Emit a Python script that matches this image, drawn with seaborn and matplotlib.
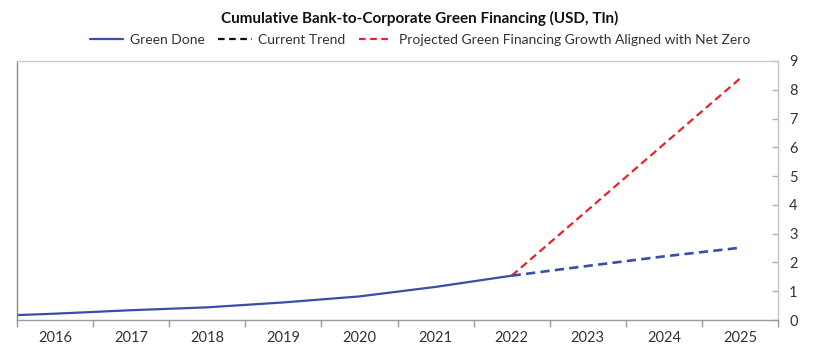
import numpy as np
import pandas as pd
import seaborn as sns
from matplotlib import pyplot as plt
from matplotlib.lines import Line2D
from matplotlib.ticker import FixedLocator, NullFormatter

sns.set_style("white")
plt.rcParams['font.family'] = ['Lato', 'DejaVu Sans']

# data
years_done = [2015, 2016, 2017, 2018, 2019, 2020, 2021, 2022]
green_done = [0.12, 0.22, 0.34, 0.44, 0.61, 0.82, 1.15, 1.54]
years_proj = [2022, 2023, 2024, 2025]
current_trend = [1.54, 1.88, 2.21, 2.51]
net_zero = [1.54, 3.82, 6.11, 8.39]
year_labels = [str(y) for y in range(2016, 2026)]

BLUE = "#3a4ea6"
RED = "#e8232c"

df_done = pd.DataFrame({"year": years_done, "value": green_done})
df_trend = pd.DataFrame({"year": years_proj, "value": current_trend})
df_nz = pd.DataFrame({"year": years_proj, "value": net_zero})

fig = plt.figure(figsize=(8.4, 3.57), dpi=100)
ax = fig.add_axes([17/840, 37/357, (778-17)/840, (320-61)/357])

sns.lineplot(data=df_done, x="year", y="value", ax=ax, color=BLUE, lw=1.6)
sns.lineplot(data=df_nz, x="year", y="value", ax=ax, color=RED, lw=1.6,
             linestyle=(0, (3.5, 2)))
sns.lineplot(data=df_trend, x="year", y="value", ax=ax, color=BLUE, lw=1.9,
             linestyle=(0, (3.5, 2)))

ax.set_xlim(2015.5, 2025.5)
ax.set_ylim(0, 9)
ax.set_xlabel("")
ax.set_ylabel("")

# category style x axis: ticks at boundaries, labels at centres
ax.xaxis.set_major_locator(FixedLocator(np.arange(2015.5, 2026, 1.0)))
ax.xaxis.set_major_formatter(NullFormatter())
ax.xaxis.set_minor_locator(FixedLocator(np.arange(2016, 2026)))
ax.set_xticklabels(year_labels, minor=True)
ax.tick_params(axis="x", which="major", direction="out", length=5,
               width=1, color="#9a9a9a", bottom=True)
ax.tick_params(axis="x", which="minor", length=0, pad=8,
               labelsize=10.5, labelcolor="#333333")

ax.yaxis.tick_right()
ax.set_yticks(range(0, 10))
ax.tick_params(axis="y", direction="in", length=4, width=1,
               color="#b0b0b0", pad=8, labelsize=10.5, labelcolor="#333333")

for side in ["left", "right", "top", "bottom"]:
    ax.spines[side].set_visible(True)
    ax.spines[side].set_linewidth(1)
ax.spines["left"].set_color("#8a8a8a")
ax.spines["bottom"].set_color("#9a9a9a")
ax.spines["right"].set_color("#c4c4c4")
ax.spines["top"].set_color("#cccccc")

fig.text(0.5, 0.948, "Cumulative Bank-to-Corporate Green Financing (USD, Tln)",
         ha="center", va="center", fontsize=11, fontweight="bold", color="#111111")

handles = [
    Line2D([], [], color=BLUE, lw=1.6),
    Line2D([], [], color="#111111", lw=1.6, linestyle=(0, (3, 2))),
    Line2D([], [], color=RED, lw=1.6, linestyle=(0, (3, 2))),
]
labels = ["Green Done", "Current Trend",
          "Projected Green Financing Growth Aligned with Net Zero"]
fig.legend(handles, labels, loc="center", bbox_to_anchor=(0.5, 0.888),
           ncol=3, frameon=False, fontsize=10, handlelength=2.4,
           handletextpad=0.45, columnspacing=1.0, labelcolor="#333333")

fig.savefig("out.png", dpi=100)
